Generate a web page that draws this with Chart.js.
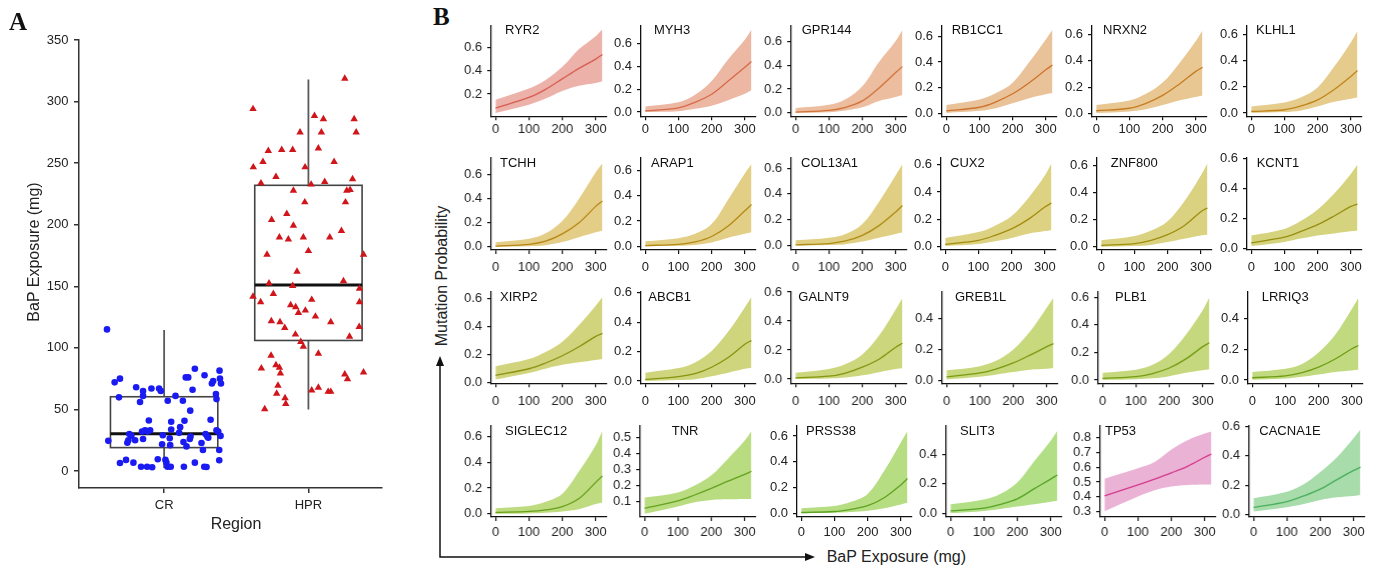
<!DOCTYPE html>
<html><head><meta charset="utf-8">
<script src="https://cdn.jsdelivr.net/npm/chart.js@4.4.1/dist/chart.umd.min.js"></script>
<style>
html,body{margin:0;padding:0;background:#fff;}
body{width:1378px;height:568px;position:relative;overflow:hidden;font-family:'Liberation Sans',Arial,Helvetica,sans-serif;color:#222;}
.box{position:absolute;}
.txt{position:absolute;white-space:nowrap;line-height:1;}
.ctr{transform:translate(-50%,-50%);}
.rot{transform:translate(-50%,-50%) rotate(-90deg);}
.gene{position:absolute;white-space:nowrap;line-height:1;font-size:13px;transform:translateY(-50%);color:#111;}
.panelLetter{position:absolute;font-family:'Liberation Serif','Times New Roman',serif;font-weight:bold;font-size:25px;line-height:25px;color:#111;}
</style>
</head><body>
<script>
// ================= DATA : panel A =================
const regions = ['CR', 'HPR'];
const exposureTicks = [0, 50, 100, 150, 200, 250, 300, 350];
// CR group: horizontal jitter offsets (category units) and BaP exposure (mg)
const crJitter = [-0.396,-0.343,-0.306,-0.313,-0.387,-0.306,-0.264,-0.248,-0.255,-0.241,-0.227,-0.213,-0.201,-0.194,-0.167,-0.160,-0.146,-0.146,-0.118,-0.146,-0.132,-0.116,-0.106,-0.097,-0.088,-0.083,-0.044,-0.035,-0.023,-0.009,-0.014,0.009,0.023,0.016,0.046,0.025,0.039,0.042,0.049,0.049,0.079,0.104,0.111,0.130,0.134,0.141,0.150,0.167,0.137,0.155,0.178,0.181,0.183,0.197,0.213,0.213,0.259,0.269,0.278,0.294,0.280,0.287,0.299,0.306,0.322,0.331,0.340,0.359,0.363,0.363,0.375,0.384,0.387,0.394,0.391,0.382,0.382,-0.153];
const crExposure = [115,72,75,59.8,24.5,6.5,9,25,23,30,28.5,6.8,25,68,56,3.5,61,65,3.5,26,33,32,41,33,67,3,9.5,67,65,29,21.7,9,3.5,6.8,3.5,57,26.6,21,40,33.7,61,31,35.6,57,23.6,40.8,76,76,3.5,20,26,49,28,66,83,6.8,22.8,17,3.5,3.2,77.7,30,28,27,41.6,71,73,62.5,58.4,33,32,81.5,75,71,28.5,17,8.7,32];
// HPR group
const hprJitter = [-0.384,0.252,0.042,0.104,0.317,-0.058,0.09,0.331,0.069,-0.278,-0.185,-0.109,-0.382,-0.315,-0.023,0.178,-0.329,-0.225,0.019,0.113,0.306,-0.104,0.266,0.289,-0.025,0.257,-0.150,-0.255,-0.104,-0.201,-0.139,-0.035,0.148,0.229,0,-0.287,0.382,-0.079,
 -0.273,-0.109,0.243,-0.384,-0.331,-0.243,-0.123,-0.088,-0.069,-0.021,0.023,0.049,0.354,0.354,-0.257,-0.197,-0.164,0.155,0.352,-0.090,0.285,-0.053,-0.035,0.069,-0.259,-0.326,-0.225,-0.201,-0.194,0.382,0.252,0.271,-0.211,-0.220,-0.162,-0.157,-0.303,0.023,0.069,0.137,0.155];
const hprExposure = [294,318.6,288.5,285.8,285.8,275,275,275,262,260,260.8,260.8,246.7,251,246.7,251,233.7,238.9,232.7,234.8,237,227.8,227.8,228.3,218.3,218.3,208.8,203.9,199.3,189.8,188.2,189.8,189.8,195,178.7,175.7,175.7,161.9,
 152.4,150.3,154.3,141.6,137.2,143.8,134.8,133.2,128.5,130.4,139.1,125.5,148.1,137.2,121.7,120.9,116.3,120.9,117.1,110.9,109.2,104.9,101.1,95.4,93.8,83.4,86.1,84,79.3,80.2,78.5,74.7,69.3,62.8,59.2,54.6,50.3,65.5,67.7,64.4,64.4];
// box-plot statistics per region
const boxQ1 = [19, 106];
const boxMedian = [30.3, 151];
const boxQ3 = [60.3, 232];
const whiskerLow = [2.5, 50];
const whiskerHigh = [114.5, 318];

// ================= DATA : panel B =================
const genes = ['RYR2','MYH3','GPR144','RB1CC1','NRXN2','KLHL1',
               'TCHH','ARAP1','COL13A1','CUX2','ZNF800','KCNT1',
               'XIRP2','ABCB1','GALNT9','GREB1L','PLB1','LRRIQ3',
               'SIGLEC12','TNR','PRSS38','SLIT3','TP53','CACNA1E'];
const exposureGrid = [0, 100, 150, 200, 250, 300, 320];
const exposureAxisTicks = [0, 100, 200, 300];
// fitted mutation probability (rows follow `genes`)
const probFit = [
 [0.078,0.17,0.24,0.33,0.42,0.50,0.54],
 [0.01,0.037,0.085,0.155,0.27,0.39,0.44],
 [0.005,0.02,0.046,0.10,0.21,0.34,0.39],
 [0.022,0.05,0.092,0.154,0.24,0.34,0.377],
 [0.022,0.041,0.078,0.138,0.223,0.32,0.35],
 [0.012,0.025,0.054,0.10,0.18,0.28,0.326],
 [0.005,0.02,0.046,0.107,0.2,0.336,0.38],
 [0.005,0.015,0.034,0.077,0.16,0.28,0.33],
 [0.005,0.015,0.035,0.078,0.154,0.26,0.31],
 [0.017,0.047,0.083,0.13,0.2,0.29,0.32],
 [0.01,0.024,0.048,0.09,0.156,0.26,0.288],
 [0.037,0.075,0.114,0.158,0.216,0.28,0.296],
 [0.05,0.097,0.138,0.19,0.254,0.328,0.35],
 [0.011,0.03,0.05,0.094,0.16,0.25,0.275],
 [0.009,0.02,0.042,0.082,0.137,0.22,0.247],
 [0.023,0.048,0.075,0.113,0.163,0.218,0.238],
 [0.012,0.024,0.047,0.087,0.153,0.242,0.27],
 [0.015,0.027,0.048,0.084,0.137,0.204,0.225],
 [0.01,0.018,0.03,0.055,0.118,0.244,0.294],
 [0.059,0.104,0.141,0.182,0.227,0.27,0.289],
 [0.005,0.013,0.03,0.058,0.12,0.22,0.27],
 [0.019,0.037,0.063,0.10,0.167,0.232,0.26],
 [0.406,0.48,0.52,0.562,0.608,0.668,0.69],
 [0.049,0.089,0.127,0.173,0.238,0.3,0.322]];
// lower confidence bound
const probLower = [
 [0.037,0.108,0.16,0.225,0.27,0.294,0.31],
 [0.0,0.008,0.028,0.056,0.104,0.16,0.19],
 [0.0,0.005,0.02,0.046,0.10,0.134,0.15],
 [0.006,0.022,0.042,0.08,0.12,0.15,0.16],
 [0.005,0.017,0.034,0.065,0.10,0.126,0.138],
 [0.0,0.007,0.02,0.05,0.086,0.11,0.118],
 [0.0,0.005,0.013,0.04,0.08,0.12,0.134],
 [0.0,0.003,0.01,0.03,0.067,0.098,0.11],
 [0.0,0.003,0.01,0.03,0.06,0.09,0.10],
 [0.005,0.02,0.04,0.064,0.095,0.114,0.123],
 [0.0,0.005,0.014,0.036,0.06,0.084,0.09],
 [0.015,0.043,0.065,0.086,0.10,0.114,0.12],
 [0.02,0.067,0.097,0.125,0.143,0.16,0.166],
 [0.0,0.007,0.013,0.033,0.057,0.083,0.09],
 [0.0,0.004,0.011,0.026,0.048,0.07,0.075],
 [0.006,0.023,0.038,0.054,0.069,0.075,0.08],
 [0.0,0.005,0.012,0.028,0.052,0.07,0.078],
 [0.002,0.01,0.021,0.036,0.053,0.063,0.067],
 [0.0,0.003,0.008,0.018,0.035,0.075,0.088],
 [0.024,0.069,0.096,0.11,0.114,0.116,0.116],
 [0.0,0.003,0.008,0.018,0.038,0.068,0.08],
 [0.004,0.019,0.032,0.048,0.063,0.08,0.087],
 [0.302,0.402,0.445,0.47,0.48,0.483,0.483],
 [0.022,0.051,0.073,0.1,0.118,0.127,0.133]];
// upper confidence bound
const probUpper = [
 [0.15,0.247,0.32,0.433,0.586,0.697,0.757],
 [0.048,0.085,0.15,0.27,0.46,0.63,0.72],
 [0.04,0.068,0.115,0.224,0.43,0.607,0.70],
 [0.067,0.11,0.16,0.24,0.40,0.575,0.65],
 [0.066,0.10,0.15,0.235,0.38,0.55,0.63],
 [0.05,0.081,0.12,0.196,0.355,0.54,0.625],
 [0.038,0.067,0.113,0.215,0.40,0.62,0.695],
 [0.039,0.064,0.098,0.175,0.37,0.575,0.65],
 [0.04,0.06,0.09,0.167,0.34,0.545,0.63],
 [0.064,0.107,0.154,0.225,0.355,0.52,0.61],
 [0.048,0.08,0.12,0.19,0.336,0.528,0.62],
 [0.086,0.13,0.184,0.26,0.367,0.497,0.56],
 [0.115,0.166,0.217,0.29,0.41,0.547,0.61],
 [0.057,0.088,0.127,0.205,0.336,0.50,0.57],
 [0.044,0.07,0.104,0.17,0.30,0.48,0.56],
 [0.065,0.092,0.128,0.20,0.316,0.47,0.535],
 [0.052,0.075,0.11,0.19,0.33,0.506,0.60],
 [0.053,0.074,0.105,0.18,0.295,0.463,0.537],
 [0.043,0.06,0.093,0.156,0.33,0.532,0.645],
 [0.125,0.157,0.2,0.264,0.367,0.48,0.54],
 [0.038,0.055,0.088,0.15,0.33,0.55,0.64],
 [0.063,0.095,0.134,0.21,0.35,0.49,0.556],
 [0.523,0.594,0.636,0.72,0.785,0.828,0.843],
 [0.111,0.156,0.207,0.29,0.39,0.52,0.578]];
// y-axis range and tick step per panel
const yAxisMin = [0.008,-0.037,-0.03,-0.02,-0.02,-0.025, -0.027,-0.03,-0.035,-0.024,-0.024,-0.011, -0.007,-0.015,-0.029,-0.019,-0.024,-0.021, -0.025,0.004,-0.03,-0.022,0.263,-0.016];
const yAxisMax = [0.786,0.752,0.735,0.68,0.665,0.667, 0.74,0.70,0.68,0.65,0.66,0.605, 0.647,0.606,0.602,0.573,0.64,0.575, 0.683,0.572,0.68,0.59,0.881,0.603];
const yTickStep = [0.2,0.2,0.2,0.2,0.2,0.2, 0.2,0.2,0.2,0.2,0.2,0.2, 0.2,0.2,0.2,0.2,0.2,0.2, 0.2,0.1,0.2,0.2,0.1,0.2];

// ================= STYLE / LAYOUT =================
const bandColors = ['rgb(236,178,170)','rgb(236,184,164)','rgb(236,189,158)','rgb(234,194,153)','rgb(232,199,147)','rgb(230,204,140)',
 'rgb(228,205,135)','rgb(226,206,132)','rgb(224,207,131)','rgb(221,209,130)','rgb(218,210,128)','rgb(214,211,126)',
 'rgb(210,212,125)','rgb(207,213,124)','rgb(204,214,124)','rgb(200,216,125)','rgb(197,216,125)','rgb(194,218,127)',
 'rgb(190,219,128)','rgb(186,220,129)','rgb(183,221,130)','rgb(178,222,133)','rgb(234,178,212)','rgb(168,220,170)'];
const lineColors = ['rgb(214,92,80)','rgb(214,106,72)','rgb(210,114,58)','rgb(204,116,44)','rgb(198,124,34)','rgb(193,132,26)',
 'rgb(184,134,20)','rgb(179,137,20)','rgb(174,139,20)','rgb(164,140,16)','rgb(157,142,16)','rgb(149,143,16)',
 'rgb(141,145,16)','rgb(134,148,16)','rgb(129,150,16)','rgb(121,155,18)','rgb(117,156,20)','rgb(111,158,22)',
 'rgb(104,160,26)','rgb(99,162,30)','rgb(94,163,32)','rgb(87,165,38)','rgb(214,58,140)','rgb(74,175,95)'];
const panelAxisX = [491,640.7,791,941.7,1091.7,1246.7, 491,640.7,791,940.7,1096.7,1246.7, 491,640.7,791,942,1098,1247.7, 491,640,796.7,946,1100,1249];
const geneLabelX = [505,654,801.7,951.7,1103,1256, 500,651,801,950,1110.7,1256.7, 500,648.3,798.3,955,1115,1261.7, 505,671.7,806,960,1105,1259.3];
const rowTop = [22.7,155,289,423.3];
const rowBottom = [116,250,383.3,517.3];
const xLabelPad = [1,6,6,4];
const plotWidth = 114.7;
const boxHalfWidth = 0.372;

Chart.defaults.animation = false;
Chart.defaults.font.family = "'Liberation Sans', Arial, Helvetica, sans-serif";
Chart.defaults.font.size = 13;
Chart.defaults.color = '#222';
Chart.defaults.plugins.legend.display = false;
Chart.defaults.plugins.tooltip.enabled = false;

function place(tag, cls, css, text){
  const el = document.createElement(tag);
  if (cls) el.className = cls;
  Object.assign(el.style, css);
  if (text !== undefined) el.textContent = text;
  document.body.appendChild(el);
  return el;
}
function px(v){ return v + 'px'; }

// ---------- Panel A ----------
const boxPlugin = {
  id: 'boxes',
  beforeDatasetsDraw(chart){
    const {ctx, scales:{x, y}} = chart;
    ctx.save();
    regions.forEach((r, i) => {
      const c = i + 1;
      const xl = x.getPixelForValue(c - boxHalfWidth), xr = x.getPixelForValue(c + boxHalfWidth), xc = x.getPixelForValue(c);
      const yq1 = y.getPixelForValue(boxQ1[i]), yq3 = y.getPixelForValue(boxQ3[i]), ym = y.getPixelForValue(boxMedian[i]);
      ctx.strokeStyle = '#5a5a5a'; ctx.lineWidth = 1.8;
      ctx.beginPath();
      ctx.moveTo(xc, y.getPixelForValue(whiskerHigh[i])); ctx.lineTo(xc, yq3);
      ctx.moveTo(xc, yq1); ctx.lineTo(xc, y.getPixelForValue(whiskerLow[i]));
      ctx.stroke();
      ctx.strokeStyle = '#444'; ctx.lineWidth = 1.6;
      ctx.strokeRect(xl, yq3, xr - xl, yq1 - yq3);
      ctx.strokeStyle = '#111'; ctx.lineWidth = 3;
      ctx.beginPath(); ctx.moveTo(xl, ym); ctx.lineTo(xr, ym); ctx.stroke();
    });
    ctx.restore();
  }
};

const wrapA = place('div', 'box', {left:'0px', top:'0px', width:'400px', height:'540px'});
const canvasA = document.createElement('canvas'); wrapA.appendChild(canvasA);
new Chart(canvasA, {
  type: 'scatter',
  data: { datasets: [
    { label: regions[0], data: crExposure.map((v, i) => ({x: 1 + crJitter[i], y: v})),
      pointStyle: 'circle', pointRadius: 3.3, pointBackgroundColor: 'rgb(26,26,242)', pointBorderWidth: 0 },
    { label: regions[1], data: hprExposure.map((v, i) => ({x: 2 + hprJitter[i], y: v})),
      pointStyle: 'triangle', pointRadius: 4.3, pointBackgroundColor: 'rgb(208,22,26)', pointBorderWidth: 0 }
  ]},
  options: {
    responsive: true, maintainAspectRatio: false, devicePixelRatio: 1,
    layout: { padding: { left: 0, top: 40, right: 18, bottom: 6 } },
    scales: {
      x: { type: 'linear', min: 0.41, max: 2.51,
        afterBuildTicks: s => { s.ticks = regions.map((r, i) => ({value: i + 1})); },
        afterFit: s => { s.height = 46; },
        ticks: { callback: v => regions[Math.round(v) - 1], padding: 5, maxRotation: 0, autoSkip: false, color: '#222' },
        grid: { display: true, drawOnChartArea: false, tickLength: 5, color: '#333', lineWidth: 1.5 },
        border: { display: true, color: '#333', width: 1.5 } },
      y: { type: 'linear', min: -13.8, max: 350,
        afterBuildTicks: s => { s.ticks = exposureTicks.map(v => ({value: v})); },
        afterFit: s => { s.width = 79; },
        ticks: { padding: 5.5, color: '#222', autoSkip: false },
        grid: { display: true, drawOnChartArea: false, tickLength: 5, color: '#333', lineWidth: 1.5 },
        border: { display: true, color: '#333', width: 1.5 } }
    }
  },
  plugins: [boxPlugin]
});

place('div', 'panelLetter', {left:'9px', top:'8.5px'}, 'A');
place('div', 'txt rot', {left:'33.5px', top:'252px', fontSize:'16px'}, 'BaP Exposure (mg)');
place('div', 'txt ctr', {left:'236px', top:'524px', fontSize:'16px'}, 'Region');

// ---------- Panel B ----------
place('div', 'panelLetter', {left:'433px', top:'3.5px'}, 'B');
place('div', 'txt rot', {left:'442px', top:'276px', fontSize:'16px'}, 'Mutation Probability');
place('div', 'txt', {left:'826.7px', top:'556.7px', fontSize:'16px', transform:'translateY(-50%)'}, 'BaP Exposure (mg)');

const svgNS = 'http://www.w3.org/2000/svg';
const svg = document.createElementNS(svgNS, 'svg');
svg.setAttribute('width', '1378'); svg.setAttribute('height', '568');
Object.assign(svg.style, {position:'absolute', left:'0px', top:'0px', pointerEvents:'none'});
svg.innerHTML =
  '<path d="M440 557 L440 364 M439.3 557 L808 557" stroke="#111" stroke-width="1.5" fill="none"/>' +
  '<polygon points="440,356 436,366 444,366" fill="#111"/>' +
  '<polygon points="815,557 805,553 805,561" fill="#111"/>';
document.body.appendChild(svg);

genes.forEach((g, k) => {
  const row = Math.floor(k / 6);
  const top = rowTop[row], bottom = rowBottom[row];
  const padTop = 10, padRight = 14, yW = 40, xH = 26;
  const wrap = place('div', 'box', {
    left: px(panelAxisX[k] - yW), top: px(top - padTop),
    width: px(yW + plotWidth + padRight), height: px(padTop + (bottom - top) + xH)
  });
  const cv = document.createElement('canvas'); wrap.appendChild(cv);
  const toPts = arr => exposureGrid.map((x, i) => ({x, y: arr[i]}));
  const step = yTickStep[k];
  const yt = [];
  for (let v = Math.ceil((yAxisMin[k] - 1e-9) / step) * step; v <= yAxisMax[k] + 1e-9; v += step) yt.push(Math.round(v * 10) / 10);
  new Chart(cv, {
    type: 'line',
    data: { datasets: [
      { label: g, data: toPts(probFit[k]), borderWidth: 1.3, borderColor: lineColors[k], pointRadius: 0,
        fill: false, tension: 0.35 },
      { label: g + ' upper', data: toPts(probUpper[k]), borderWidth: 0, borderColor: 'rgba(0,0,0,0)', pointRadius: 0,
        backgroundColor: bandColors[k], fill: '+1', tension: 0.35 },
      { label: g + ' lower', data: toPts(probLower[k]), borderWidth: 0, borderColor: 'rgba(0,0,0,0)', pointRadius: 0,
        fill: false, tension: 0.35 }
    ]},
    options: {
      responsive: true, maintainAspectRatio: false, devicePixelRatio: 1,
      layout: { padding: { left: 0, top: padTop, right: padRight, bottom: 0 } },
      scales: {
        x: { type: 'linear', min: -12.8, max: 332.8,
          afterBuildTicks: s => { s.ticks = exposureAxisTicks.map(v => ({value: v})); },
          afterFit: s => { s.height = xH; },
          ticks: { padding: xLabelPad[row], maxRotation: 0, autoSkip: false, color: '#222', callback: v => String(v) },
          grid: { display: true, drawOnChartArea: false, tickLength: 4, color: '#111', lineWidth: 1.2 },
          border: { display: true, color: '#111', width: 1.3 } },
        y: { type: 'linear', min: yAxisMin[k], max: yAxisMax[k],
          afterBuildTicks: s => { s.ticks = yt.map(v => ({value: v})); },
          afterFit: s => { s.width = yW; },
          ticks: { padding: 5, color: '#222', autoSkip: false, callback: v => Number(v).toFixed(1) },
          grid: { display: true, drawOnChartArea: false, tickLength: 4, color: '#111', lineWidth: 1.2 },
          border: { display: true, color: '#111', width: 1.3 } }
      }
    }
  });
  place('div', 'gene', {left: px(geneLabelX[k]), top: px(top + 6.5)}, g);
});
</script>
</body></html>
